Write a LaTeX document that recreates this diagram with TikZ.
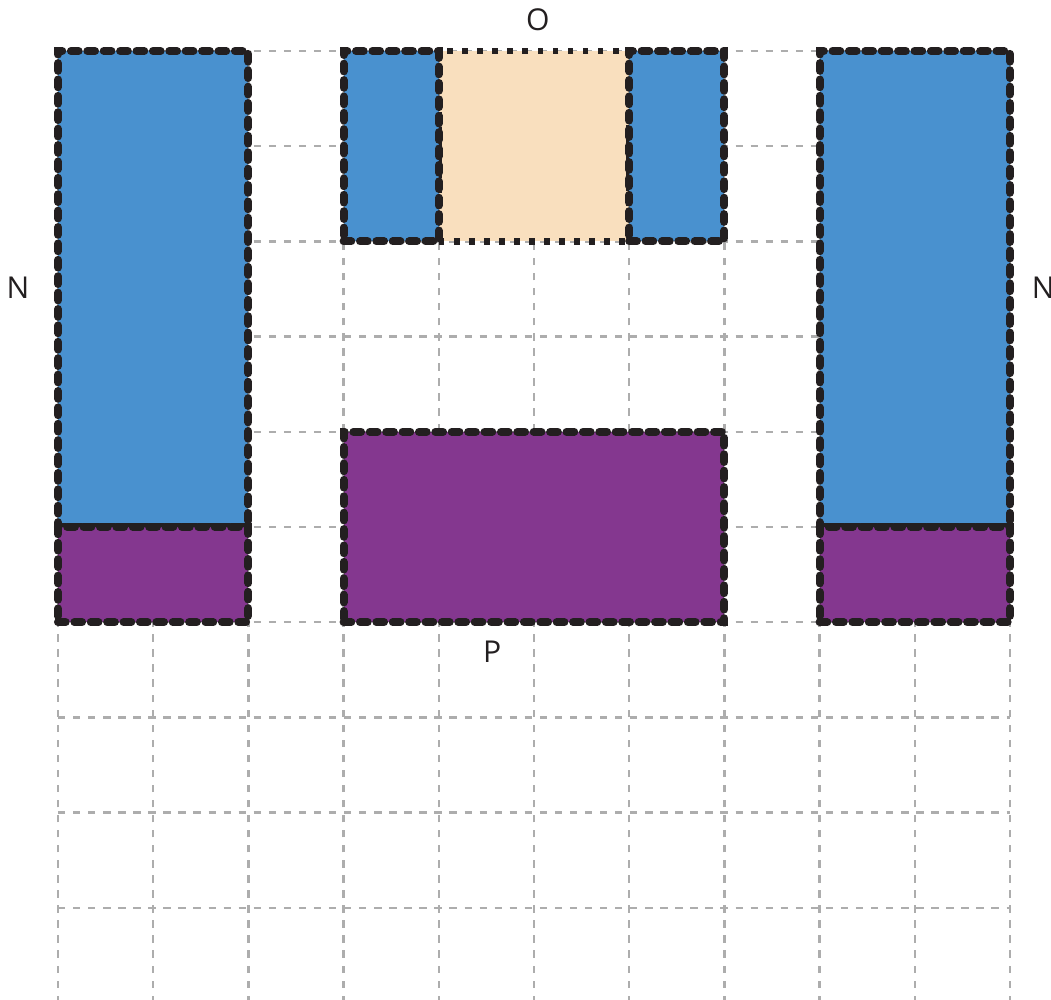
\documentclass[tikz,border=0pt]{standalone}
\usepackage{fontspec}
\setmainfont{Open Sans}
\usetikzlibrary{positioning}
\definecolor{cblue}{HTML}{4991CF}
\definecolor{cpurple}{HTML}{84378F}
\definecolor{cbeige}{HTML}{F9DFBE}
\definecolor{cink}{HTML}{231F20}
\definecolor{cgrid}{HTML}{ADADAD}
\tikzset{
  every picture/.style={font=\fontsize{9}{11}\selectfont},
  block/.style={draw=cink, fill=#1, line width=2.4pt, line cap=round, dash pattern=on 2.3pt off 2.6pt, inner sep=0pt, outer sep=0pt},
  block/.default=cblue,
  slot/.style={draw=cink, fill=cbeige, line width=2pt, dash pattern=on 1.7pt off 2.8pt, inner sep=0pt, outer sep=0pt},
  gridline/.style={draw=cgrid, line width=0.75pt, dash pattern=on 2.2pt off 2.3pt},
  tag/.style={text=cink, inner sep=0pt},
}

\begin{document}
\begin{tikzpicture}
  \useasboundingbox (-0.609,0.032) rectangle (10.431,10.536);
  % grid
  \foreach \x in {0,...,10} \draw[gridline] (\x,0) -- (\x,10);
  \foreach \y in {1,...,10} \draw[gridline] (0,\y) -- (10,\y);
  % side columns
  \node[block, minimum width=2cm, minimum height=5cm] (nleft) at (1,7.5) {};
  \node[block=cpurple, minimum width=2cm, minimum height=1cm, below=0pt of nleft] (pleft) {};
  \node[block, minimum width=2cm, minimum height=5cm] (nright) at (9,7.5) {};
  \node[block=cpurple, minimum width=2cm, minimum height=1cm, below=0pt of nright] (pright) {};
  % top middle
  \node[slot, minimum width=2cm, minimum height=2cm] (oslot) at (5,9) {};
  \node[block, minimum width=1cm, minimum height=2cm, left=0pt of oslot] (oleft) {};
  \node[block, minimum width=1cm, minimum height=2cm, right=0pt of oslot] (oright) {};
  % bottom middle
  \node[block=cpurple, minimum width=4cm, minimum height=2cm] (pmid) at (5,5) {};
  % labels
  \node[tag] (otag) at (5.04,10.33) {O};
  \node[tag] (ntagl) at (-0.42,7.51) {N};
  \node[tag] (ntagr) at (10.35,7.51) {N};
  \node[tag] (ptag) at (4.56,3.69) {P};
\end{tikzpicture}
\end{document}
